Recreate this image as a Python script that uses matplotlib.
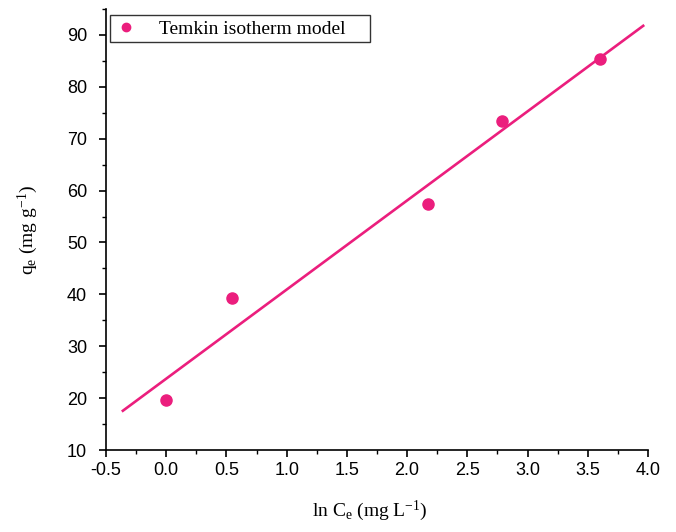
import numpy as np
import matplotlib
matplotlib.use("Agg")
import matplotlib.pyplot as plt
from matplotlib.ticker import MultipleLocator

plt.rcParams['mathtext.fontset'] = 'custom'
plt.rcParams['mathtext.rm'] = 'Liberation Serif'
plt.rcParams['mathtext.it'] = 'Liberation Serif:italic'

ln_ce = [0.0, 0.55, 2.17, 2.79, 3.60]
qe = [19.6, 39.3, 57.4, 73.5, 85.4]
fit_range = [-0.36, 3.96]
color = '#EB1E7D'

slope, intercept = np.polyfit(ln_ce, qe, 1)
xf = np.array(fit_range)
yf = slope * xf + intercept

fig = plt.figure(figsize=(6.76, 5.32), dpi=100)
ax = fig.add_axes([0.1568, 0.1541, 0.8018, 0.829])

ax.plot(xf, yf, color=color, lw=1.9, zorder=2)
ax.plot(ln_ce, qe, 'o', color=color, ms=8, zorder=3,
        label='Temkin isotherm model    ')

ax.set_xlim(-0.5, 4.0)
ax.set_ylim(10, 95)
ax.xaxis.set_major_locator(MultipleLocator(0.5))
ax.xaxis.set_minor_locator(MultipleLocator(0.25))
ax.yaxis.set_major_locator(MultipleLocator(10))
ax.yaxis.set_minor_locator(MultipleLocator(5))

for s in ['top', 'right']:
    ax.spines[s].set_visible(False)
for s in ['left', 'bottom']:
    ax.spines[s].set_linewidth(1.2)

ax.tick_params(which='major', direction='out', length=5, width=1.2,
               labelsize=13)
ax.tick_params(which='minor', direction='out', length=3, width=1.0)
ax.tick_params(axis='y', which='major', pad=8.5)
ax.set_xticks([-0.5, 0.0, 0.5, 1.0, 1.5, 2.0, 2.5, 3.0, 3.5, 4.0])
ax.set_xticklabels(['-0.5', '0.0', '0.5', '1.0', '1.5', '2.0', '2.5',
                    '3.0', '3.5', '4.0'])
for lab in ax.get_xticklabels() + ax.get_yticklabels():
    lab.set_fontfamily('Liberation Sans')
    lab.set_fontsize(13)

ax.set_xlabel(r'ln C$_\mathregular{e}$ (mg L$^\mathregular{-1}$)',
              fontfamily='Liberation Serif', fontsize=14)
ax.xaxis.set_label_coords(0.487, -0.11)
ax.set_ylabel(r'q$_\mathregular{e}$ (mg g$^\mathregular{-1}$)',
              fontfamily='Liberation Serif', fontsize=14)
ax.yaxis.set_label_coords(-0.121, 0.5)

leg = ax.legend(loc='upper left', bbox_to_anchor=(0.007, 0.986),
                borderaxespad=0.0,
                prop={'family': 'Liberation Serif', 'size': 14},
                frameon=True, fancybox=False, edgecolor='black',
                handlelength=1.2, handletextpad=1.1, borderpad=0.25,
                markerscale=0.75)
leg.get_frame().set_linewidth(1.0)

fig.savefig('out.png', dpi=100)
